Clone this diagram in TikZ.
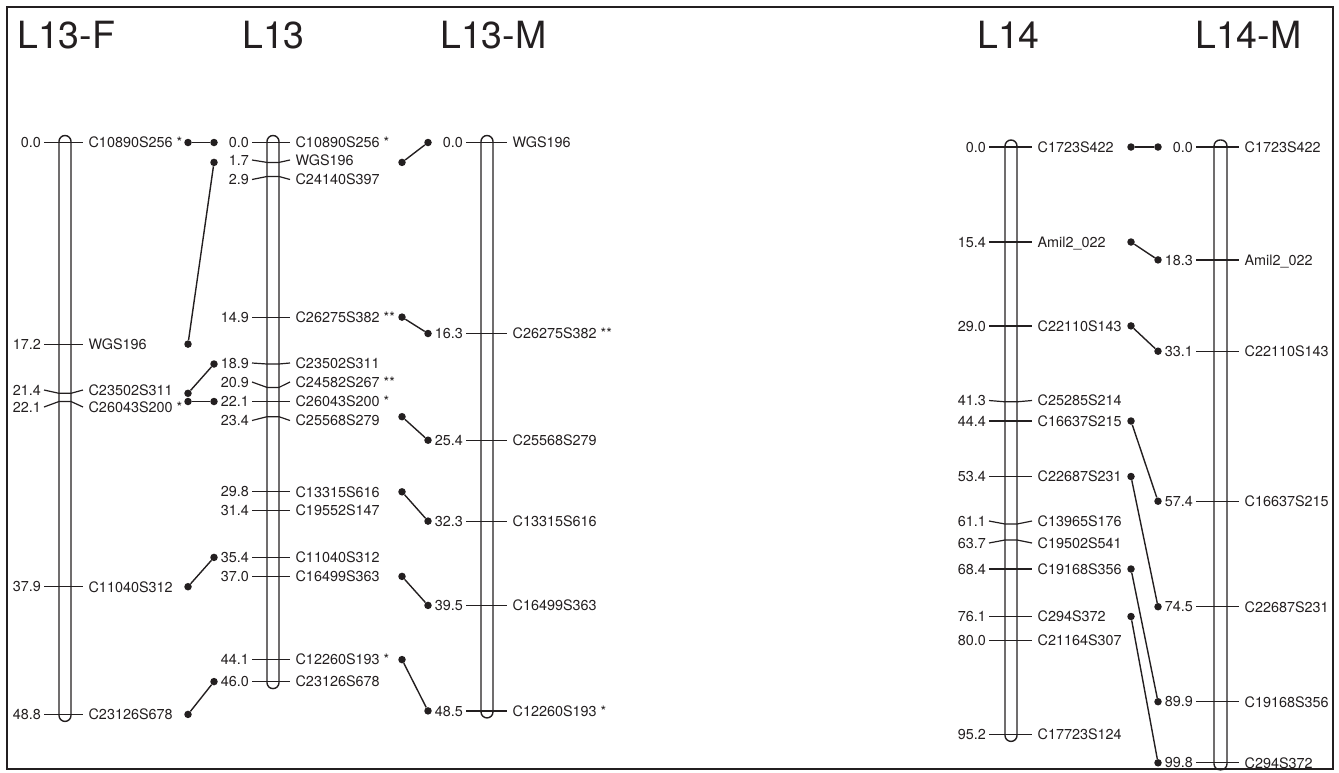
\documentclass[tikz,border=0pt]{standalone}
\usepackage{fontspec}
\setmainfont{TeX Gyre Heros}
\usepackage{xcolor}
\usepackage{tikz}
\definecolor{lgink}{RGB}{35,31,32}
\tikzset{
  frame/.style={draw=lgink, line width=1.4pt},
  chrom/.style={draw=lgink, line width=1.4pt, rounded corners=6pt},
  tick/.style={draw=lgink, line width=1.2pt},
  num/.style={
    anchor=east, inner sep=0pt, text depth=0pt, xshift=-2.5pt,
    font=\fontsize{14.4}{17}\selectfont, text=lgink
  },
  mname/.style={
    anchor=west, inner sep=0pt, text depth=0pt, xshift=5pt,
    font=\fontsize{14.4}{17}\selectfont, text=lgink
  },
  lgtitle/.style={
    anchor=base west, inner sep=0pt,
    font=\fontsize{37.5}{40}\selectfont, text=lgink
  },
  dot/.style={circle, fill=lgink, inner sep=0pt, minimum size=7.5pt},
  link/.style={draw=lgink, line width=1.4pt}
}

\begin{document}
\begin{tikzpicture}[x=1pt,y=-1pt]
  \useasboundingbox (0,0) rectangle (1339,772);
  \draw[frame] (7,7) rectangle (1333,769);
  % group names
  \node[lgtitle] (t13f) at (17,48) {L13-F};
  \node[lgtitle] (t13) at (242,48) {L13};
  \node[lgtitle] (t13m) at (440,48) {L13-M};
  \node[lgtitle] (t14) at (977,48) {L14};
  \node[lgtitle] (t14m) at (1195,48) {L14-M};

  % L13-F
  \draw[chrom] (59,135.5) rectangle (71,721.4);
  \draw[tick] (44,142.5) node[num] (f1n) {0.0} -- (83,142.5) node[mname] (f1m) {C10890S256 *};
  \draw[tick] (44,344.1) node[num] (f2n) {17.2} -- (83,344.1) node[mname] (f2m) {WGS196};
  \draw[tick] (44,390) node[num] (f3n) {21.4} -- (59,393.3) -- (71,393.3) -- (83,390) node[mname] (f3m) {C23502S311};
  \draw[tick] (44,407) node[num] (f4n) {22.1} -- (59,401.5) -- (71,401.5) -- (83,407) node[mname] (f4m) {C26043S200 *};
  \draw[tick] (44,586.7) node[num] (f5n) {37.9} -- (83,586.7) node[mname] (f5m) {C11040S312};
  \draw[tick] (44,714.4) node[num] (f6n) {48.8} -- (83,714.4) node[mname] (f6m) {C23126S678};

  % L13
  \draw[chrom] (267,135.5) rectangle (279,688.6);
  \draw[tick] (252,142.5) node[num] (l1n) {0.0} -- (290,142.5) node[mname] (l1m) {C10890S256 *};
  \draw[tick] (252,160) node[num] (l2n) {1.7} -- (267,162.4) -- (279,162.4) -- (290,160) node[mname] (l2m) {WGS196};
  \draw[tick] (252,179.5) node[num] (l3n) {2.9} -- (267,176.5) -- (279,176.5) -- (290,179.5) node[mname] (l3m) {C24140S397};
  \draw[tick] (252,317.1) node[num] (l4n) {14.9} -- (290,317.1) node[mname] (l4m) {C26275S382 **};
  \draw[tick] (252,363) node[num] (l5n) {18.9} -- (267,364) -- (279,364) -- (290,363) node[mname] (l5m) {C23502S311};
  \draw[tick] (252,382) node[num] (l6n) {20.9} -- (267,387.4) -- (279,387.4) -- (290,382) node[mname] (l6m) {C24582S267 **};
  \draw[tick] (252,401.5) node[num] (l7n) {22.1} -- (290,401.5) node[mname] (l7m) {C26043S200 *};
  \draw[tick] (252,420.5) node[num] (l8n) {23.4} -- (267,416.7) -- (279,416.7) -- (290,420.5) node[mname] (l8m) {C25568S279};
  \draw[tick] (252,491.8) node[num] (l9n) {29.8} -- (290,491.8) node[mname] (l9m) {C13315S616};
  \draw[tick] (252,510.5) node[num] (l10n) {31.4} -- (290,510.5) node[mname] (l10m) {C19552S147};
  \draw[tick] (252,557.4) node[num] (l11n) {35.4} -- (290,557.4) node[mname] (l11m) {C11040S312};
  \draw[tick] (252,576.4) node[num] (l12n) {37.0} -- (290,576.4) node[mname] (l12m) {C16499S363};
  \draw[tick] (252,659.6) node[num] (l13n) {44.1} -- (290,659.6) node[mname] (l13m) {C12260S193 *};
  \draw[tick] (252,681.6) node[num] (l14n) {46.0} -- (290,681.6) node[mname] (l14m) {C23126S678};

  % L13-M
  \draw[chrom] (481,135.5) rectangle (493,717.9);
  \draw[tick] (466,142.5) node[num] (m1n) {0.0} -- (507,142.5) node[mname] (m1m) {WGS196};
  \draw[tick] (466,333.5) node[num] (m2n) {16.3} -- (507,333.5) node[mname] (m2m) {C26275S382 **};
  \draw[tick] (466,440.2) node[num] (m3n) {25.4} -- (507,440.2) node[mname] (m3m) {C25568S279};
  \draw[tick] (466,521.1) node[num] (m4n) {32.3} -- (507,521.1) node[mname] (m4m) {C13315S616};
  \draw[tick] (466,605.4) node[num] (m5n) {39.5} -- (507,605.4) node[mname] (m5m) {C16499S363};
  \draw[tick] (466,710.9) node[num] (m6n) {48.5} -- (507,710.9) node[mname] (m6m) {C12260S193 *};

  % L14
  \draw[chrom] (1005,140) rectangle (1017,741.4);
  \draw[tick] (989,147) node[num] (p1n) {0.0} -- (1032,147) node[mname] (p1m) {C1723S422};
  \draw[tick] (989,242) node[num] (p2n) {15.4} -- (1032,242) node[mname] (p2m) {Amil2\_022};
  \draw[tick] (989,325.9) node[num] (p3n) {29.0} -- (1032,325.9) node[mname] (p3m) {C22110S143};
  \draw[tick] (989,400.5) node[num] (p4n) {41.3} -- (1005,401.8) -- (1017,401.8) -- (1032,400.5) node[mname] (p4m) {C25285S214};
  \draw[tick] (989,421) node[num] (p5n) {44.4} -- (1032,421) node[mname] (p5m) {C16637S215};
  \draw[tick] (989,476.5) node[num] (p6n) {53.4} -- (1032,476.5) node[mname] (p6m) {C22687S231};
  \draw[tick] (989,521) node[num] (p7n) {61.1} -- (1005,524) -- (1017,524) -- (1032,521) node[mname] (p7m) {C13965S176};
  \draw[tick] (989,543) node[num] (p8n) {63.7} -- (1005,540) -- (1017,540) -- (1032,543) node[mname] (p8m) {C19502S541};
  \draw[tick] (989,569) node[num] (p9n) {68.4} -- (1032,569) node[mname] (p9m) {C19168S356};
  \draw[tick] (989,616.5) node[num] (p10n) {76.1} -- (1032,616.5) node[mname] (p10m) {C294S372};
  \draw[tick] (989,640.6) node[num] (p11n) {80.0} -- (1032,640.6) node[mname] (p11m) {C21164S307};
  \draw[tick] (989,734.4) node[num] (p12n) {95.2} -- (1032,734.4) node[mname] (p12m) {C17723S124};

  % L14-M
  \draw[chrom] (1214,140) rectangle (1227,769.8);
  \draw[tick] (1196,147) node[num] (q1n) {0.0} -- (1239,147) node[mname] (q1m) {C1723S422};
  \draw[tick] (1196,259.9) node[num] (q2n) {18.3} -- (1239,259.9) node[mname] (q2m) {Amil2\_022};
  \draw[tick] (1196,351.2) node[num] (q3n) {33.1} -- (1239,351.2) node[mname] (q3m) {C22110S143};
  \draw[tick] (1196,501.2) node[num] (q4n) {57.4} -- (1239,501.2) node[mname] (q4m) {C16637S215};
  \draw[tick] (1196,606.7) node[num] (q5n) {74.5} -- (1239,606.7) node[mname] (q5m) {C22687S231};
  \draw[tick] (1196,701.7) node[num] (q6n) {89.9} -- (1239,701.7) node[mname] (q6m) {C19168S356};
  \draw[tick] (1196,762.8) node[num] (q7n) {99.8} -- (1239,762.8) node[mname] (q7m) {C294S372};

  % shared markers, L13-F to L13
  \node[dot] (fd1) at (188,142.5) {};
  \node[dot] (fd2) at (188,344.1) {};
  \node[dot] (fd3) at (188,393.3) {};
  \node[dot] (fd4) at (188,401.5) {};
  \node[dot] (fd5) at (188,586.7) {};
  \node[dot] (fd6) at (188,714.4) {};
  \node[dot] (la1) at (214,142.5) {};
  \node[dot] (la2) at (214,162.4) {};
  \node[dot] (la3) at (214,364) {};
  \node[dot] (la4) at (214,401.5) {};
  \node[dot] (la5) at (214,557.4) {};
  \node[dot] (la6) at (214,681.6) {};
  \draw[link] (fd1) -- (la1);
  \draw[link] (fd2) -- (la2);
  \draw[link] (fd3) -- (la3);
  \draw[link] (fd4) -- (la4);
  \draw[link] (fd5) -- (la5);
  \draw[link] (fd6) -- (la6);

  % L13 to L13-M
  \node[dot] (lb1) at (402,162.4) {};
  \node[dot] (lb2) at (402,317.1) {};
  \node[dot] (lb3) at (402,416.7) {};
  \node[dot] (lb4) at (402,491.8) {};
  \node[dot] (lb5) at (402,576.4) {};
  \node[dot] (lb6) at (402,659.6) {};
  \node[dot] (md1) at (428,142.5) {};
  \node[dot] (md2) at (428,333.5) {};
  \node[dot] (md3) at (428,440.2) {};
  \node[dot] (md4) at (428,521.1) {};
  \node[dot] (md5) at (428,605.4) {};
  \node[dot] (md6) at (428,710.9) {};
  \draw[link] (lb1) -- (md1);
  \draw[link] (lb2) -- (md2);
  \draw[link] (lb3) -- (md3);
  \draw[link] (lb4) -- (md4);
  \draw[link] (lb5) -- (md5);
  \draw[link] (lb6) -- (md6);

  % L14 to L14-M
  \node[dot] (pd1) at (1131,147) {};
  \node[dot] (pd2) at (1131,242) {};
  \node[dot] (pd3) at (1131,325.9) {};
  \node[dot] (pd4) at (1131,421) {};
  \node[dot] (pd5) at (1131,476.5) {};
  \node[dot] (pd6) at (1131,569) {};
  \node[dot] (pd7) at (1131,616.5) {};
  \node[dot] (qd1) at (1158,147) {};
  \node[dot] (qd2) at (1158,259.9) {};
  \node[dot] (qd3) at (1158,351.2) {};
  \node[dot] (qd4) at (1158,501.2) {};
  \node[dot] (qd5) at (1158,606.7) {};
  \node[dot] (qd6) at (1158,701.7) {};
  \node[dot] (qd7) at (1158,762.8) {};
  \draw[link] (pd1) -- (qd1);
  \draw[link] (pd2) -- (qd2);
  \draw[link] (pd3) -- (qd3);
  \draw[link] (pd4) -- (qd4);
  \draw[link] (pd5) -- (qd5);
  \draw[link] (pd6) -- (qd6);
  \draw[link] (pd7) -- (qd7);
\end{tikzpicture}
\end{document}
